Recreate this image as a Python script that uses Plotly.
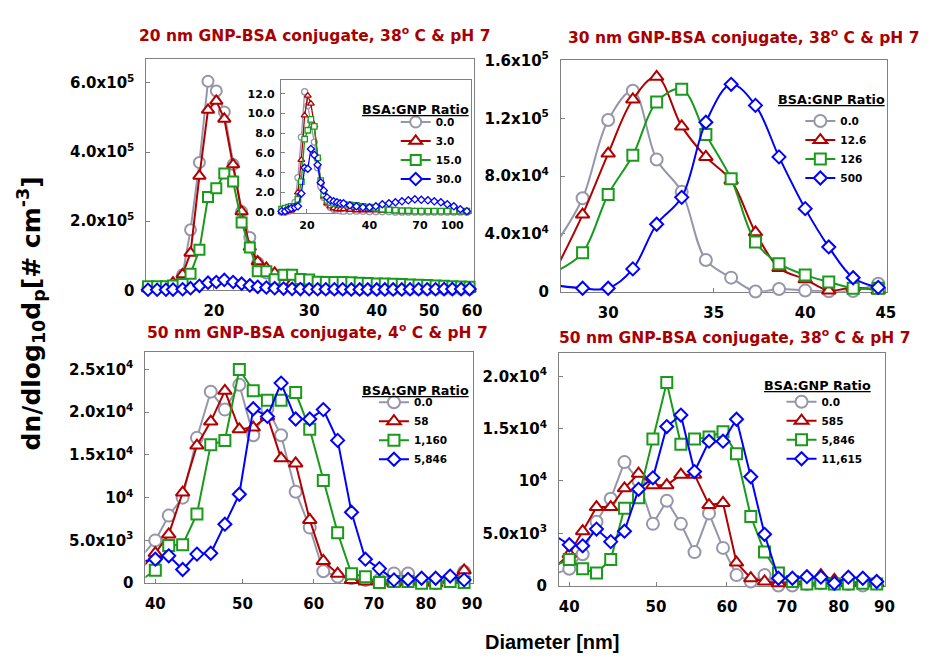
import numpy as np
import plotly.graph_objects as go

# ---------------- data ----------------
# Panel A: 20 nm GNP-BSA conjugate, 38 C & pH 7 (main)
d20 = [15.1, 15.7, 16.3, 16.8, 17.5, 18.1, 18.8, 19.5, 20.2, 20.9, 21.7, 22.5, 23.3, 24.1, 25.0,
       25.9, 26.9, 27.9, 28.9, 30.0, 31.1, 32.2, 33.4, 34.6, 35.9, 37.2, 38.5, 40.0, 41.4, 42.9,
       44.5, 46.1, 47.8, 49.6, 51.4, 53.3, 55.2, 57.3, 59.4]
a_00 = [8000, 8000, 9000, 12000, 45000, 175000, 370000, 605000, 577000, 516000, 364000, 228000,
        153000, 80000, 50000, 30000, 18000, 12000, 10000, 8000, 6000, 5000, 4500, 4000, 4000, 3500,
        3500, 3000, 3000, 3000, 3000, 3000, 3000, 3000, 3000, 3000, 3000, 3000, 3000]
a_30 = [5000, 5000, 6000, 22000, 46000, 108000, 331000, 522000, 548000, 496000, 364000, 228000,
        125000, 83000, 65000, 50000, 38000, 22000, 15000, 12000, 10000, 9000, 8000, 7000, 7000,
        6000, 6000, 5000, 5000, 5000, 5000, 4500, 4500, 4500, 4000, 4000, 4000, 4000, 4000]
a_150 = [12000, 12000, 12000, 14000, 18000, 48000, 117000, 270000, 295000, 338000, 315000, 196000,
         124000, 55000, 55000, 32000, 45000, 45000, 33000, 31000, 25000, 24000, 24000, 24000, 23000,
         22000, 21000, 20000, 20000, 19000, 18000, 17000, 16000, 15000, 14000, 13000, 12000, 11000,
         10000]
a_300 = [1500, 1500, 1500, 2000, 3000, 6000, 13000, 22000, 24000, 30000, 24000, 19000, 14000,
         10000, 8000, 6000, 5000, 4000, 3500, 3000, 3000, 3000, 3000, 3000, 2500, 2500, 2500, 2500,
         2500, 2500, 2500, 3000, 3000, 3000, 3000, 3500, 3500, 3500, 3500]

# Inset of panel A
d20i = [15.1, 15.7, 16.3, 16.8, 17.5, 18.1, 18.8, 19.5, 20.2, 20.9, 21.7, 22.5, 23.3, 24.1, 25.0,
        25.9, 26.9, 27.9, 28.9, 30.0, 32.2, 34.6, 37.2, 40.0, 42.9, 46.1, 49.6, 53.3, 57.3, 61.5,
        66.1, 71.0, 76.4, 82.0, 88.2, 94.7, 101.8, 109.4, 117.6]
i_00 = [0.0, 0.0, 0.1, 0.2, 1.0, 3.5, 7.6, 12.2, 10.8, 9.2, 7.1, 4.5, 2.6, 1.5, 0.9, 0.5, 0.3, 0.2,
        0.15, 0.1, 0.1, 0.1, 0.1, 0.05, 0.05, 0.05, 0.05, 0.0, 0.0, 0.0, 0.0, 0.0, 0.0, 0.0, 0.0,
        0.0, 0.0, 0.0, 0.0]
i_30 = [0.0, 0.0, 0.1, 0.2, 0.6, 2.0, 5.3, 9.8, 11.8, 11.0, 8.8, 5.5, 3.0, 1.6, 0.9, 0.6, 0.4, 0.3,
        0.3, 0.3, 0.25, 0.2, 0.2, 0.2, 0.2, 0.15, 0.15, 0.1, 0.1, 0.1, 0.1, 0.1, 0.05, 0.05, 0.05,
        0.05, 0.0, 0.0, 0.0]
i_150 = [0.3, 0.4, 0.5, 0.6, 0.6, 1.3, 3.1, 7.4, 8.3, 9.4, 8.7, 5.5, 3.2, 1.8, 1.2, 1.0, 0.9, 0.9,
         0.8, 0.8, 0.75, 0.7, 0.6, 0.5, 0.4, 0.3, 0.25, 0.2, 0.15, 0.15, 0.1, 0.1, 0.1, 0.1, 0.1,
         0.1, 0.1, 0.1, 0.1]
i_300 = [0.1, 0.1, 0.3, 0.4, 0.5, 0.6, 1.9, 4.5, 4.4, 6.4, 5.8, 4.8, 3.0, 2.2, 1.5, 1.2, 1.1, 1.0,
         0.9, 0.9, 0.7, 0.6, 0.5, 0.5, 0.6, 0.8, 0.9, 1.0, 1.1, 1.2, 1.3, 1.25, 1.2, 1.1, 1.0, 0.8,
         0.6, 0.3, 0.1]

# Panel B: 30 nm GNP-BSA conjugate, 38 C & pH 7
d30 = [27.9, 28.9, 30.0, 31.1, 32.2, 33.4, 34.6, 35.9, 37.2, 38.5, 40.0, 41.4, 42.9, 44.5]
b_00 = [36000, 64700, 118800, 139000, 91500, 69100, 22000, 9750, 200, 1900, 800, 300, 500, 5500]
b_126 = [19000, 53400, 95600, 133000, 148700, 114400, 93300, 77000, 41100, 16500, 8600, 800, 3000, 800]
b_1260 = [15000, 27000, 67300, 94400, 131200, 140100, 108800, 78100, 34400, 19400, 11500, 6800, 2400, 2400]
b_5000 = [4200, 2400, 2400, 15800, 46700, 65300, 117300, 143500, 128900, 93300, 57500, 31000, 9700, 3000]

# Panels C and D: 50 nm GNP-BSA conjugate
d50 = [38.5, 40.0, 41.4, 42.9, 44.5, 46.1, 47.8, 49.6, 51.4, 53.3, 55.2, 57.3, 59.4, 61.5, 63.8,
       66.1, 68.5, 71.0, 73.7, 76.4, 79.1, 82.0, 85.1, 88.2]
c_00 = [3000, 5000, 7900, 10000, 17000, 22400, 20300, 23200, 17300, 20400, 17300, 10700, 6500, 1400,
        760, 570, 380, 380, 1140, 1140, 190, 0, 380, 1330]
c_58 = [1600, 3500, 5700, 10600, 16100, 18900, 22500, 18000, 18200, 19500, 14600, 14000, 7400, 2600,
        1100, 380, 200, 200, 0, 200, 200, 0, 380, 1500]
c_1160 = [300, 1500, 4400, 4500, 8100, 16200, 16700, 25000, 22500, 21400, 21400, 22300, 18000, 12000,
          5900, 1100, 760, 80, 190, 190, 0, 0, 190, 80]
c_5846 = [2500, 2800, 3200, 1600, 3400, 3500, 6900, 10400, 20400, 19500, 23400, 19200, 19200, 20300,
          16700, 8300, 2800, 1700, 380, 450, 570, 570, 830, 380]

e_00 = [1100, 1600, 3000, 6100, 8300, 11800, 10000, 5900, 8100, 5900, 3200, 6900, 3600, 1000, 390,
        1000, 0, 0, 160, 230, 160, 160, 0, 230]
e_585 = [1700, 3000, 5200, 7500, 7500, 9300, 10700, 9600, 9600, 10600, 10600, 7700, 7900, 2200, 700,
         390, 230, 390, 390, 1000, 540, 230, 390, 230]
e_5846 = [1900, 2500, 1600, 1200, 2500, 7400, 8400, 14000, 19400, 13500, 14000, 14200, 14700, 12600,
          6600, 3200, 1200, 390, 160, 230, 160, 160, 230, 160]
e_11615 = [4800, 3900, 3800, 5400, 4200, 5200, 9200, 10300, 15200, 16300, 10900, 13800, 13800, 15900,
           10400, 4900, 700, 700, 850, 800, 230, 800, 700, 390]

names_a = ["0.0", "3.0", "15.0", "30.0"]
names_b = ["0.0", "12.6", "126", "500"]
names_c = ["0.0", "58", "1,160", "5,846"]
names_d = ["0.0", "585", "5,846", "11,615"]

xt_a = [20, 30, 40, 50, 60]
xt_i = [20, 40, 70, 100]
xt_b = [30, 35, 40, 45]
xt_cd = [40, 50, 60, 70, 80, 90]
yt_a = [0, 2e5, 4e5, 6e5]
yl_a = ["0", "2.0x10<sup>5</sup>", "4.0x10<sup>5</sup>", "6.0x10<sup>5</sup>"]
yt_i = [0, 2, 4, 6, 8, 10, 12]
yl_i = ["0.0", "2.0", "4.0", "6.0", "8.0", "10.0", "12.0"]
yt_b = [0, 4e4, 8e4, 1.2e5, 1.6e5]
yl_b = ["0", "4.0x10<sup>4</sup>", "8.0x10<sup>4</sup>", "1.2x10<sup>5</sup>", "1.6x10<sup>5</sup>"]
yt_c = [0, 5e3, 1e4, 1.5e4, 2e4, 2.5e4]
yl_c = ["0", "5.0x10<sup>3</sup>", "10<sup>4</sup>", "1.5x10<sup>4</sup>", "2.0x10<sup>4</sup>",
        "2.5x10<sup>4</sup>"]
yt_d = [0, 5e3, 1e4, 1.5e4, 2e4]
yl_d = ["0", "5.0x10<sup>3</sup>", "10<sup>4</sup>", "1.5x10<sup>4</sup>", "2.0x10<sup>4</sup>"]

# ---------------- styling ----------------
W, H = 933, 661
GRAY, RED, GREEN, BLUE = "#9696aa", "#b00000", "#1a9a1a", "#0000ff"
COLS = [GRAY, RED, GREEN, BLUE]
SYMS = ["circle", "triangle-up", "square", "diamond"]
TITLE_RED = "#a80000"
FONT = "DejaVu Sans"
AXC = "#808080"


def xd(a, b):
    return [a / W, b / W]


def yd(top, bottom):
    return [1 - bottom / H, 1 - top / H]


fig = go.Figure()


def add_group(xs, series, names, xa, ya, legend, sizes, lw, mlw, shape="linear", xlo=None,
              showlegend=True):
    for i, (ys, nm) in enumerate(zip(series, names)):
        tr = go.Scatter(
            x=xs, y=ys, mode="lines+markers", name=nm, xaxis=xa, yaxis=ya,
            legend=legend, showlegend=showlegend, cliponaxis=False,
            line=dict(color=COLS[i], width=lw, shape=shape, smoothing=1.0),
            marker=dict(symbol=SYMS[i], size=sizes[i], color="white",
                        line=dict(color=COLS[i], width=mlw)),
            hoverinfo="skip")
        if xlo is not None:
            sel = [k for k, x in enumerate(xs) if x >= xlo]
            tr.selectedpoints = sel
            tr.unselected = dict(marker=dict(opacity=0))
        fig.add_trace(tr)


big = [12, 12, 11, 10]
mid = [11, 11, 10, 9.5]
small = [6, 6, 5.5, 5.5]

# ranges (x in diameter units)
XA = (15.0, 60.5)
XI = (15.0, 123.0)
XB = (28.0, 45.1)
XC = (39.0, 90.2)
XD = (38.95, 90.2)

add_group(d20, [a_00, a_30, a_150, a_300], names_a, "x", "y", "legend", mid, 2, 2)
add_group(d20i, [i_00, i_30, i_150, i_300], names_a, "x5", "y5", "legend", small, 1.3, 1.3,
          showlegend=False)
add_group(d30, [b_00, b_126, b_1260, b_5000], names_b, "x2", "y2", "legend2", big, 2, 2,
          shape="spline", xlo=XB[0])
add_group(d50, [c_00, c_58, c_1160, c_5846], names_c, "x3", "y3", "legend3", big, 2, 2, xlo=XC[0])
add_group(d50, [e_00, e_585, e_5846, e_11615], names_d, "x4", "y4", "legend4", big, 2, 2, xlo=XD[0])

tickfont = dict(family=FONT, size=15, color="black", weight="bold")


def xaxis(dom, rng, vals, anchor, font=tickfont, standoff=7):
    return dict(domain=dom, anchor=anchor, type="log",
                range=[np.log10(rng[0]), np.log10(rng[1])],
                tickmode="array", tickvals=vals, ticktext=[str(v) for v in vals],
                showline=True, linecolor=AXC, linewidth=1, mirror=True,
                ticks="inside", ticklen=4, tickcolor=AXC, showgrid=False, zeroline=False,
                tickfont=font, ticklabelstandoff=standoff, layer="below traces")


def yaxis(dom, rng, vals, labels, anchor, font=tickfont, standoff=8):
    return dict(domain=dom, anchor=anchor, range=list(rng),
                tickmode="array", tickvals=vals, ticktext=labels,
                showline=True, linecolor=AXC, linewidth=1, mirror=True,
                ticks="inside", ticklen=4, tickcolor=AXC, showgrid=False, zeroline=False,
                tickfont=font, ticklabelstandoff=standoff, layer="below traces")


insetfont = dict(family=FONT, size=11, color="black", weight="bold")

fig.update_layout(
    width=W, height=H, margin=dict(l=0, r=0, t=0, b=0),
    paper_bgcolor="white", plot_bgcolor="white", showlegend=True,
    xaxis=xaxis(xd(148, 479), XA, xt_a, "y"),
    yaxis=yaxis(yd(50, 288), (0, 6.68e5), yt_a, yl_a, "x"),
    xaxis2=xaxis(xd(567, 897), XB, xt_b, "y2"),
    yaxis2=yaxis(yd(51, 289.5), (0, 1.6e5), yt_b, yl_b, "x2"),
    xaxis3=xaxis(xd(147, 478), XC, xt_cd, "y3"),
    yaxis3=yaxis(yd(352, 590), (0, 2.7e4), yt_c, yl_c, "x3"),
    xaxis4=xaxis(xd(565, 895), XD, xt_cd, "y4"),
    yaxis4=yaxis(yd(353, 592.5), (0, 2.22e4), yt_d, yl_d, "x4"),
    xaxis5=xaxis(xd(284, 476), XI, xt_i, "y5", font=insetfont, standoff=2),
    yaxis5=yaxis(yd(71, 208), (-0.05, 13.4), yt_i, yl_i, "x5", font=insetfont, standoff=3),
)

legfont = dict(family=FONT, size=10.5, color="black", weight="bold")


def leg(xp, yp):
    return dict(x=xp / W, y=1 - yp / H, xanchor="left", yanchor="top",
                bgcolor="rgba(0,0,0,0)", font=legfont, itemsizing="trace",
                tracegroupgap=0, traceorder="normal")


fig.update_layout(legend=leg(400, 99.5), legend2=leg(809, 98.5),
                  legend3=leg(378, 388.5), legend4=leg(790, 388))

ann = []


def text(x, y, s, size, color="black", anchor="left", angle=0, family=FONT, under=False):
    f = dict(family=family, size=size, color=color, weight="bold")
    if under:
        f["lineposition"] = "under"
    ann.append(dict(x=x / W, y=1 - y / H, xref="paper", yref="paper", text=s, showarrow=False,
                    xanchor=anchor, yanchor="middle", textangle=angle, font=f))


# panel titles
text(138, 24, "20 nm GNP-BSA conjugate, 38<sup>o</sup> C & pH 7", 15.5, TITLE_RED)
text(572, 26, "30 nm GNP-BSA conjugate, 38<sup>o</sup> C & pH 7", 15.5, TITLE_RED)
text(147, 331, "50 nm GNP-BSA conjugate, 4<sup>o</sup> C & pH 7", 15.5, TITLE_RED)
text(563, 336, "50 nm GNP-BSA conjugate, 38<sup>o</sup> C & pH 7", 15.5, TITLE_RED)
# legend headers
for (cx, cy) in [(420.5, 102), (840.5, 91), (420.5, 391), (826.5, 386)]:
    text(cx, cy, "BSA:GNP Ratio", 12.75, anchor="center", under=True)
# axis titles
text(31.7, 311.5, "dn/dlog<sub>10</sub>d<sub>p</sub>[# cm<sup>-3</sup>]", 25, anchor="center",
     angle=-90)
text(558, 651, "Diameter [nm]", 20, anchor="center", family="Liberation Sans")

fig.update_layout(annotations=ann)
fig.write_html("out.html")
